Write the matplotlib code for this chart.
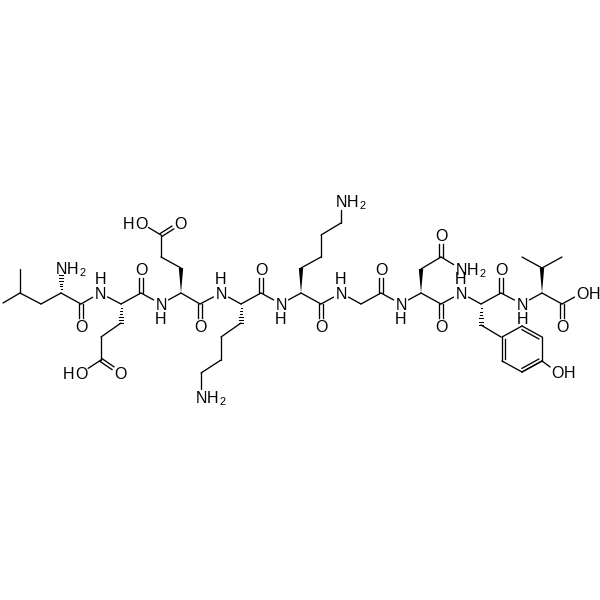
import numpy as np
import matplotlib
matplotlib.use('Agg')
import matplotlib.pyplot as plt

# Main chain, left to right, in picture pixels
backbone = [(3, 303), (20, 293), (41, 304), (61, 293), (81, 304), (100, 293), (121, 304), (141, 293),
            (161, 304), (181, 293), (200, 304), (221, 293), (241, 304), (261, 293), (281, 304), (301, 293),
            (321, 304), (341, 293), (361, 304), (381, 293), (401, 304), (421, 293), (441, 304), (461, 293),
            (481, 304), (501, 293), (522, 304), (542, 293), (562, 304), (582, 293)]

# Side chains, starting after the stereo bond
side_chains = [
    [(20, 293), (20, 269)],
    [(121, 323), (101, 337), (101, 360), (81, 373)],
    [(181, 268), (161, 257), (161, 235), (141, 223)],
    [(241, 323), (221, 337), (221, 360), (201, 373), (201, 397)],
    [(301, 268), (321, 257), (321, 235), (341, 223), (341, 201)],
    [(421, 269), (441, 257), (461, 269)],
    [(481, 325), (501, 337)],
    [(522, 257), (542, 268), (562, 257)],
    [(542, 337), (542, 361), (522, 372), (502, 361)],
    [(502, 337), (522, 326)],
    [(542, 361), (557, 372)],
]

# C=O bonds
carbonyls = [((81, 304), (81, 326)), ((141, 293), (141, 269)), ((200, 304), (200, 326)),
             ((261, 293), (261, 269)), ((321, 304), (321, 326)), ((381, 293), (381, 269)),
             ((441, 304), (441, 326)), ((501, 293), (501, 269)), ((562, 304), (562, 326)),
             ((101, 360), (120, 373)), ((161, 235), (180, 223)), ((441, 257), (441, 235))]

# Aromatic double bonds, drawn with the second line towards the ring centre
ring_doubles = [((502, 337), (502, 361)), ((522, 326), (542, 337)), ((522, 372), (542, 361))]
ring_centre = (522, 349)

wedges = [((181, 293), (181, 268)), ((301, 293), (301, 268)), ((421, 293), (421, 269)), ((542, 293), (542, 268))]
hashes = [((61, 293), (61, 275)), ((121, 304), (121, 323)), ((241, 304), (241, 323)), ((481, 304), (481, 325))]

# Atom labels: x, y, kind
atom_x = [81, 141, 200, 261, 321, 381, 441, 501, 562, 120, 180, 441,
          100, 161, 221, 281, 341, 401, 461, 522,
          61, 201, 341, 461,
          81, 141, 582, 557]
atom_y = [326, 269, 326, 269, 326, 269, 326, 269, 326, 373, 223, 235,
          293, 304, 293, 304, 293, 304, 293, 304,
          268, 397, 201, 269,
          373, 223, 293, 372]
atom_kind = ['O'] * 12 + ['NHup', 'NHdn', 'NHup', 'NHdn', 'NHup', 'NHdn', 'NHup', 'NHdn'] + ['NH2'] * 4 \
    + ['HO', 'HO', 'OH', 'OH']

fig = plt.figure(figsize=(6, 6), dpi=100)
ax = fig.add_axes([0, 0, 1, 1])
ax.set_xlim(0, 600)
ax.set_ylim(600, 0)
ax.axis('off')

LW = 0.95
FS = 11.5
INK = 'black'
labelled = list(zip(atom_x, atom_y))


def trimmed(p, q):
    # pull a bond back from any end that carries a label
    p, q = np.array(p, float), np.array(q, float)
    u = (q - p) / np.hypot(*(q - p))
    a, b = p, q
    if tuple(p.astype(int)) in labelled:
        a = p + u * 8.5
    if tuple(q.astype(int)) in labelled:
        b = q - u * 8.5
    return a, b


def bond(p, q):
    a, b = trimmed(p, q)
    ax.plot([a[0], b[0]], [a[1], b[1]], color=INK, lw=LW, solid_capstyle='round')


for chain in [backbone] + side_chains:
    for p, q in zip(chain[:-1], chain[1:]):
        bond(p, q)

for p, q in carbonyls:
    a, b = trimmed(p, q)
    u = (b - a) / np.hypot(*(b - a))
    n = np.array([-u[1], u[0]]) * 1.7
    for s in (-1, 1):
        ax.plot([a[0] + s * n[0], b[0] + s * n[0]], [a[1] + s * n[1], b[1] + s * n[1]],
                color=INK, lw=LW)

for p, q in ring_doubles:
    p, q = np.array(p, float), np.array(q, float)
    ax.plot([p[0], q[0]], [p[1], q[1]], color=INK, lw=LW)
    c = np.array(ring_centre, float)
    p2 = p + (c - p) * 0.16
    q2 = q + (c - q) * 0.16
    ax.plot([p2[0], q2[0]], [p2[1], q2[1]], color=INK, lw=LW)

for p, q in wedges:
    p, q = np.array(p, float), np.array(q, float)
    u = (q - p) / np.hypot(*(q - p))
    n = np.array([-u[1], u[0]]) * 2.2
    ax.fill([p[0], q[0] + n[0], q[0] - n[0]], [p[1], q[1] + n[1], q[1] - n[1]], color='black', lw=0)

for p, q in hashes:
    p, q = np.array(p, float), np.array(q, float)
    u = (q - p) / np.hypot(*(q - p))
    n = np.array([-u[1], u[0]])
    for t in np.linspace(0.05, 1, 7):
        c = p + (q - p) * t
        w = 2.4 * t
        ax.plot([c[0] - n[0] * w, c[0] + n[0] * w], [c[1] - n[1] * w, c[1] + n[1] * w],
                color=INK, lw=0.75)

pieces = {
    'O': [('O', 0, 0, FS)],
    'NHup': [('N', 0, 0, FS), ('H', 0, -15, FS)],
    'NHdn': [('N', 0, 0, FS), ('H', 0, 14, FS)],
    'NH2': [('N', 0, 0, FS), ('H', 12, 0, FS), ('2', 21.5, 4, FS * 0.68)],
    'OH': [('O', 0, 0, FS), ('H', 12.5, 0, FS)],
    'HO': [('O', 0, 0, FS), ('H', -12.5, 0, FS)],
}
for x, y, kind in zip(atom_x, atom_y, atom_kind):
    for s, dx, dy, size in pieces[kind]:
        ax.text(x + dx, y + dy, s, fontsize=size, family='Liberation Sans', color=INK,
                ha='center', va='center_baseline')

fig.savefig('out.png', dpi=100, facecolor='white')
